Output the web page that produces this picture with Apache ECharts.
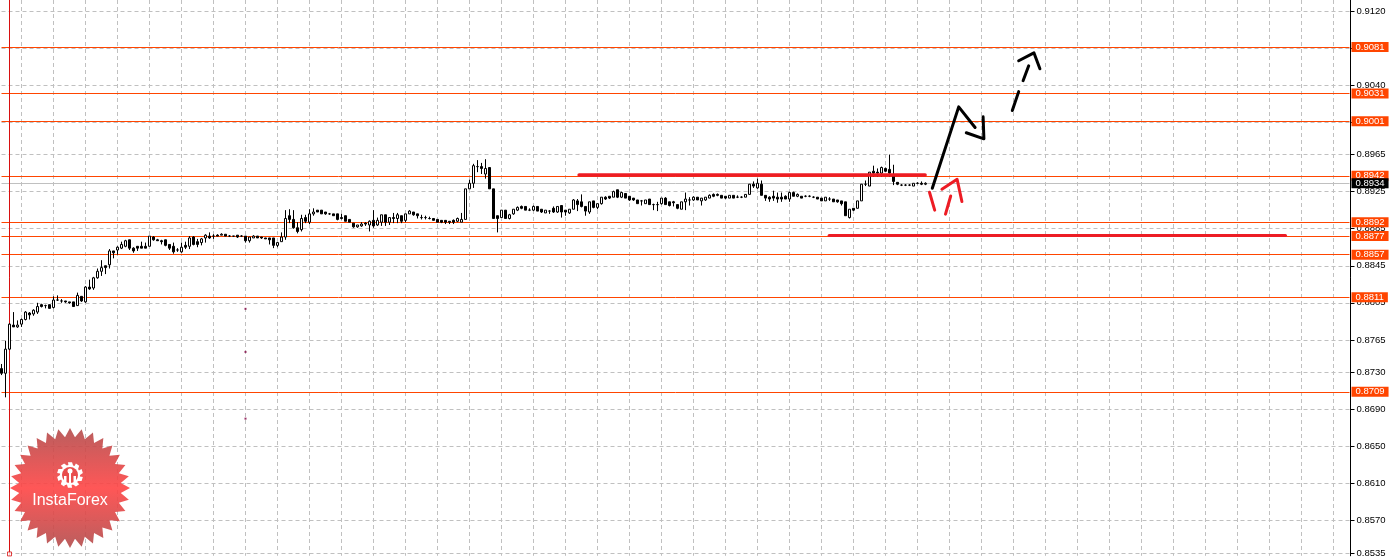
<!DOCTYPE html>
<html><head><meta charset="utf-8">
<style>html,body{margin:0;padding:0;background:#fff}#c{width:1390px;height:558px}</style>
<script src="https://cdn.jsdelivr.net/npm/echarts@6/dist/echarts.min.js"></script>
</head><body><div id="c"></div>
<script>
const opens=[.8734,.8729,.8755,.8781,.8779,.8782,.8787,.8794,.8793,.8795,
.8803,.8802,.8803,.8800,.8808,.8807,.8807,.8806,.8806,.8802,
.8812,.8806,.8822,.8821,.8832,.8839,.8845,.8846,.8861,.8862,
.8864,.8866,.8873,.8864,.8866,.8866,.8866,.8866,.8876,.8873,
.8872,.8873,.8868,.8866,.8862,.8860,.8867,.8866,.8876,.8871,
.8870,.8875,.8877,.8877,.8878,.8878,.8879,.8877,.8877,.8878,
.8877,.8877,.8872,.8875,.8877,.8876,.8875,.8875,.8875,.8867,
.8871,.8876,.8899,.8895,.8886,.8884,.8897,.8892,.8901,.8905,
.8905,.8903,.8901,.8901,.8901,.8897,.8899,.8895,.8891,.8887,
.8888,.8891,.8889,.8894,.8889,.8892,.8900,.8892,.8897,.8896,
.8899,.8894,.8901,.8903,.8901,.8897,.8897,.8896,.8896,.8895,
.8894,.8894,.8893,.8894,.8893,.8892,.8895,.8928,.8934,.8952,
.8952,.8944,.8951,.8928,.8899,.8897,.8905,.8896,.8901,.8905,
.8909,.8909,.8905,.8905,.8909,.8906,.8902,.8904,.8907,.8903,
.8910,.8905,.8902,.8906,.8915,.8914,.8909,.8903,.8915,.8908,
.8912,.8919,.8920,.8919,.8927,.8919,.8923,.8920,.8918,.8916,
.8915,.8912,.8917,.8911,.8911,.8912,.8918,.8914,.8914,.8911,
.8906,.8914,.8916,.8916,.8919,.8915,.8916,.8918,.8922,.8922,
.8921,.8920,.8918,.8921,.8919,.8919,.8919,.8922,.8933,.8929,
.8933,.8921,.8919,.8920,.8919,.8919,.8920,.8917,.8924,.8920,
.8920,.8920,.8920,.8919,.8919,.8918,.8915,.8917,.8917,.8916,
.8915,.8914,.8897,.8907,.8907,.8915,.8933,.8931,.8947,.8946,
.8945,.8950,.8949,.8942,.8935,.8932,.8932,.8932,.8931,.8934,.8934,.8933];
const closes=[.8729,.8755,.8782,.8779,.8781,.8787,.8795,.8792,.8797,.8801,
.8801,.8802,.8799,.8808,.8808,.8807,.8806,.8805,.8801,.8813,
.8807,.8822,.8820,.8832,.8839,.8843,.8843,.8861,.8859,.8865,
.8868,.8872,.8864,.8861,.8864,.8864,.8864,.8877,.8873,.8872,
.8871,.8867,.8864,.8860,.8862,.8865,.8865,.8875,.8868,.8868,
.8874,.8878,.8875,.8877,.8877,.8879,.8877,.8877,.8877,.8876,
.8877,.8872,.8876,.8877,.8875,.8875,.8874,.8873,.8867,.8870,
.8876,.8896,.8895,.8886,.8882,.8896,.8893,.8901,.8903,.8903,
.8901,.8901,.8901,.8899,.8895,.8896,.8893,.8892,.8887,.8889,
.8890,.8890,.8893,.8888,.8894,.8900,.8892,.8897,.8896,.8900,
.8893,.8901,.8904,.8900,.8899,.8897,.8897,.8896,.8894,.8892,
.8892,.8892,.8892,.8892,.8896,.8895,.8928,.8934,.8953,.8952,
.8950,.8950,.8928,.8896,.8896,.8905,.8896,.8900,.8906,.8908,
.8907,.8905,.8905,.8909,.8904,.8903,.8905,.8904,.8903,.8909,
.8903,.8903,.8906,.8916,.8911,.8909,.8904,.8914,.8908,.8912,
.8919,.8917,.8918,.8925,.8919,.8924,.8918,.8916,.8916,.8912,
.8915,.8916,.8911,.8911,.8911,.8918,.8911,.8910,.8913,.8907,
.8914,.8917,.8916,.8919,.8916,.8918,.8919,.8921,.8920,.8921,
.8918,.8918,.8921,.8918,.8919,.8919,.8922,.8933,.8931,.8934,
.8921,.8918,.8917,.8918,.8917,.8917,.8917,.8924,.8920,.8922,
.8918,.8920,.8920,.8919,.8917,.8915,.8919,.8917,.8914,.8914,
.8912,.8899,.8906,.8905,.8915,.8933,.8933,.8946,.8945,.8945,
.8951,.8947,.8945,.8936,.8933,.8932,.8932,.8932,.8934,.8934,.8933,.8934];
const lows=[.8727,.8703,.8754,.8779,.8778,.8779,.8786,.8787,.8791,.8793,
.8800,.8799,.8799,.8799,.8807,.8805,.8805,.8804,.8801,.8802,
.8806,.8805,.8819,.8819,.8831,.8834,.8836,.8842,.8853,.8857,
.8863,.8865,.8862,.8859,.8861,.8864,.8864,.8866,.8872,.8872,
.8868,.8866,.8862,.8858,.8860,.8859,.8863,.8863,.8867,.8865,
.8867,.8870,.8874,.8874,.8877,.8878,.8877,.8876,.8876,.8875,
.8876,.8870,.8870,.8875,.8875,.8874,.8874,.8868,.8864,.8865,
.8871,.8873,.8891,.8885,.8880,.8882,.8891,.8890,.8899,.8903,
.8901,.8900,.8900,.8899,.8894,.8895,.8893,.8892,.8886,.8886,
.8887,.8888,.8882,.8886,.8888,.8888,.8888,.8889,.8891,.8891,
.8891,.8892,.8901,.8899,.8896,.8895,.8895,.8895,.8894,.8892,
.8891,.8890,.8890,.8890,.8892,.8892,.8895,.8928,.8929,.8946,
.8944,.8939,.8928,.8896,.8881,.8897,.8896,.8895,.8900,.8904,
.8906,.8905,.8904,.8904,.8904,.8902,.8902,.8901,.8902,.8902,
.8897,.8899,.8901,.8906,.8904,.8908,.8899,.8901,.8907,.8906,
.8911,.8916,.8917,.8919,.8918,.8918,.8918,.8915,.8915,.8912,
.8910,.8912,.8911,.8905,.8904,.8911,.8911,.8909,.8909,.8906,
.8906,.8905,.8910,.8915,.8916,.8910,.8915,.8918,.8919,.8920,
.8918,.8917,.8918,.8918,.8918,.8918,.8919,.8922,.8929,.8928,
.8921,.8915,.8914,.8915,.8913,.8914,.8917,.8914,.8920,.8919,
.8918,.8919,.8919,.8918,.8917,.8915,.8915,.8915,.8914,.8913,
.8910,.8899,.8896,.8904,.8907,.8915,.8931,.8931,.8941,.8941,
.8941,.8946,.8941,.8932,.8932,.8931,.8931,.8931,.8931,.8933,.8932,.8932];
const highs=[.8739,.8764,.8783,.8795,.8786,.8788,.8796,.8795,.8798,.8805,
.8804,.8803,.8803,.8812,.8813,.8809,.8807,.8806,.8806,.8816,
.8812,.8823,.8830,.8833,.8842,.8851,.8845,.8863,.8861,.8866,
.8871,.8873,.8873,.8865,.8866,.8871,.8870,.8877,.8877,.8874,
.8873,.8873,.8868,.8870,.8864,.8870,.8871,.8877,.8877,.8874,
.8875,.8879,.8881,.8879,.8879,.8880,.8879,.8878,.8877,.8878,
.8878,.8877,.8876,.8878,.8877,.8876,.8875,.8875,.8875,.8870,
.8881,.8905,.8906,.8905,.8892,.8900,.8900,.8906,.8907,.8905,
.8905,.8903,.8902,.8901,.8901,.8901,.8899,.8895,.8891,.8889,
.8892,.8892,.8894,.8905,.8897,.8900,.8900,.8897,.8902,.8902,
.8899,.8901,.8905,.8903,.8901,.8900,.8899,.8898,.8896,.8895,
.8894,.8894,.8893,.8895,.8897,.8902,.8928,.8938,.8955,.8959,
.8956,.8960,.8951,.8928,.8899,.8905,.8905,.8901,.8906,.8909,
.8910,.8909,.8907,.8910,.8909,.8906,.8905,.8905,.8909,.8909,
.8910,.8905,.8906,.8917,.8917,.8922,.8909,.8914,.8915,.8912,
.8919,.8920,.8920,.8926,.8927,.8925,.8923,.8920,.8918,.8916,
.8916,.8916,.8917,.8912,.8914,.8918,.8919,.8914,.8915,.8911,
.8914,.8924,.8919,.8920,.8919,.8918,.8919,.8922,.8923,.8923,
.8921,.8920,.8921,.8921,.8921,.8920,.8922,.8933,.8936,.8939,
.8937,.8921,.8920,.8926,.8924,.8924,.8921,.8925,.8925,.8923,
.8920,.8921,.8921,.8920,.8919,.8918,.8919,.8919,.8917,.8916,
.8915,.8914,.8906,.8907,.8915,.8933,.8937,.8946,.8953,.8950,
.8952,.8951,.8965,.8954,.8935,.8933,.8933,.8933,.8934,.8935,.8936,.8935];

const yTicks=[.9120,.9080,.9040,.9000,.8965,.8925,.8885,.8845,.8805,.8765,.8730,.8690,.8650,.8610,.8570,.8535];
const priceLevels=[.9081,.9031,.9001,.8942,.8892,.8877,.8857,.8811,.8709];
const currentPrice=.8934;
const cursorBar=2;
const cursorFoot=[[2,.8534]];
const purpleDots=[[61,.87985],[61,.8752],[61,.8680]];
const redResistance=[[144.4,.8943],[230.9,.8943]];
const redSupport=[[206.9,.88776],[321,.88776]];
const blackStrokes=[
 [[232.7,.89286],[239.3,.90165],[243.4,.89942]],
 [[241.2,.89885],[245.6,.8982],[245.4,.90057]],
 [[252.7,.90125],[254.3,.90329]],
 [[255.4,.90447],[256.8,.90608]],
 [[254.3,.90662],[258.1,.90748],[259.6,.90576]]];
const redStrokes=[
 [[232,.89243],[233.3,.8905]],
 [[236,.89007],[237.3,.89203]],
 [[235.1,.89276],[238.9,.89383],[240.1,.89143]]];

const BAR_SLOTS=338;
const barNames=Array.from({length:BAR_SLOTS},(_,i)=>String(i));
const candleRows=opens.map((o,i)=>[o,closes[i],lows[i],highs[i]]);
const FONT='"Liberation Sans",Arial,sans-serif';
const fmt=v=>v.toFixed(4);

function strokeSeries(points,color,width,z){
  return {type:'line',xAxisIndex:1,yAxisIndex:0,data:points,showSymbol:false,symbol:'none',silent:true,z:z,
    lineStyle:{color:color,width:width,cap:'round',join:'round'},animation:false,clip:false};
}
const tagLine=(v,bg,line)=>({yAxis:v,lineStyle:{color:line,width:1,type:'solid'},
  label:{show:true,position:'end',distance:2,formatter:fmt(v),color:'#fff',backgroundColor:bg,
         padding:[1,4,0,4],fontFamily:FONT,fontSize:9.5,lineHeight:9}});

// logo
const cx=70,cy=488,teeth=32,star=[];
for(let i=0;i<teeth*2;i++){const r=i%2?51:60,a=Math.PI*i/teeth-Math.PI/2;star.push([cx+r*Math.cos(a),cy+r*Math.sin(a)]);}
const gx=70,gy=475,gear=[];
for(let i=0;i<10;i++){const a0=(i*36-9-90)*Math.PI/180,a1=(i*36+9-90)*Math.PI/180,a2=(i*36+18-90)*Math.PI/180,a3=(i*36+36-9-90)*Math.PI/180;
  gear.push([gx+13*Math.cos(a0),gy+13*Math.sin(a0)],[gx+13*Math.cos(a1),gy+13*Math.sin(a1)],[gx+10*Math.cos(a2),gy+10*Math.sin(a2)],[gx+10*Math.cos(a3),gy+10*Math.sin(a3)]);}
const logoRed='#e84c4c';

const series=[
 {type:'candlestick',name:'EURGBP',xAxisIndex:0,yAxisIndex:0,data:candleRows,barWidth:3,z:2,silent:true,clip:false,
  itemStyle:{color:'#ffffff',color0:'#000000',borderColor:'#000000',borderColor0:'#000000',borderColorDoji:'#000000',borderWidth:1},
  markLine:{silent:true,symbol:'none',animation:false,z:1,precision:4,
    data:priceLevels.map(v=>tagLine(v,'#ff4500','#ff4500')).concat([tagLine(currentPrice,'#000','#c0c0c0')])}},
 {type:'line',xAxisIndex:1,yAxisIndex:0,data:[],symbol:'none',silent:true,z:1,
  markLine:{silent:true,symbol:'none',animation:false,z:1,label:{show:false},
    data:[{xAxis:cursorBar,lineStyle:{color:'#d81010',width:1,type:'solid'}}]}},
 {type:'scatter',xAxisIndex:1,yAxisIndex:0,data:cursorFoot,symbol:'rect',symbolSize:4,silent:true,z:1,clip:false,
  itemStyle:{color:'#fff',borderColor:'#d81010',borderWidth:1}},
 {type:'scatter',xAxisIndex:1,yAxisIndex:0,data:purpleDots,symbol:'rect',symbolSize:2,silent:true,z:3,
  itemStyle:{color:'#800040'}},
 strokeSeries(redResistance,'#ed1c24',3.5,3),
 strokeSeries(redSupport,'#ed1c24',3,3)
];
blackStrokes.forEach(s=>series.push(strokeSeries(s,'#000',3,4)));
redStrokes.forEach(s=>series.push(strokeSeries(s,'#ed1c24',3,4)));

const chart=echarts.init(document.getElementById('c'),null,{renderer:'canvas'});
chart.setOption({
 animation:false,backgroundColor:'#ffffff',
 grid:{left:1.5,top:0,width:1348,height:558,containLabel:false,show:false},
 xAxis:[
  {type:'category',data:barNames,boundaryGap:false,position:'bottom',
   axisLine:{show:false},axisTick:{show:false},axisLabel:{show:false},
   splitLine:{show:true,interval:(i)=>(i-5)%8===0&&i>=5,lineStyle:{color:'#c0c0c0',width:1,type:[4,3]}}},
  {type:'value',min:0,max:337,show:false,splitLine:{show:false}}
 ],
 yAxis:{type:'value',position:'right',min:.85320,max:.91318,offset:1,scale:true,
  axisLine:{show:true,onZero:false,lineStyle:{color:'#000',width:1}},
  axisTick:{show:true,length:4,customValues:yTicks,lineStyle:{color:'#000',width:1}},
  axisLabel:{show:true,customValues:yTicks,formatter:v=>fmt(v),margin:6,color:'#000',fontFamily:FONT,fontSize:9.5,showMinLabel:true,showMaxLabel:true,hideOverlap:false},
  splitLine:{show:true,lineStyle:{color:'#c0c0c0',width:1,type:[4,3]}}},
 series:series,
 graphic:{elements:[
  {type:'polygon',z:100,shape:{points:star},silent:true,
   style:{opacity:.9,fill:{type:'linear',x:0,y:0,x2:0,y2:1,colorStops:[{offset:0,color:'#b24c4c'},{offset:.5,color:'#ff4444'},{offset:1,color:'#b24c4c'}]}}},
  {type:'polygon',z:101,shape:{points:gear},silent:true,style:{fill:'#fff'}},
  {type:'circle',z:102,shape:{cx:gx,cy:gy,r:8},silent:true,style:{fill:logoRed}},
  {type:'circle',z:103,shape:{cx:gx,cy:gy-4,r:2.5},silent:true,style:{fill:'#fff'}},
  {type:'rect',z:103,shape:{x:gx-1,y:gy-3,width:2,height:13},silent:true,style:{fill:'#fff'}},
  {type:'rect',z:103,shape:{x:gx-6,y:gy+1,width:2.5,height:9},silent:true,style:{fill:'#fff'}},
  {type:'rect',z:103,shape:{x:gx+3.5,y:gy+1,width:2.5,height:9},silent:true,style:{fill:'#fff'}},
  {type:'text',z:104,silent:true,style:{x:cx,y:500.5,text:'InstaForex',fill:'#fff',font:'16px '+FONT,align:'center',verticalAlign:'middle'}}
 ]}
});
</script></body></html>
